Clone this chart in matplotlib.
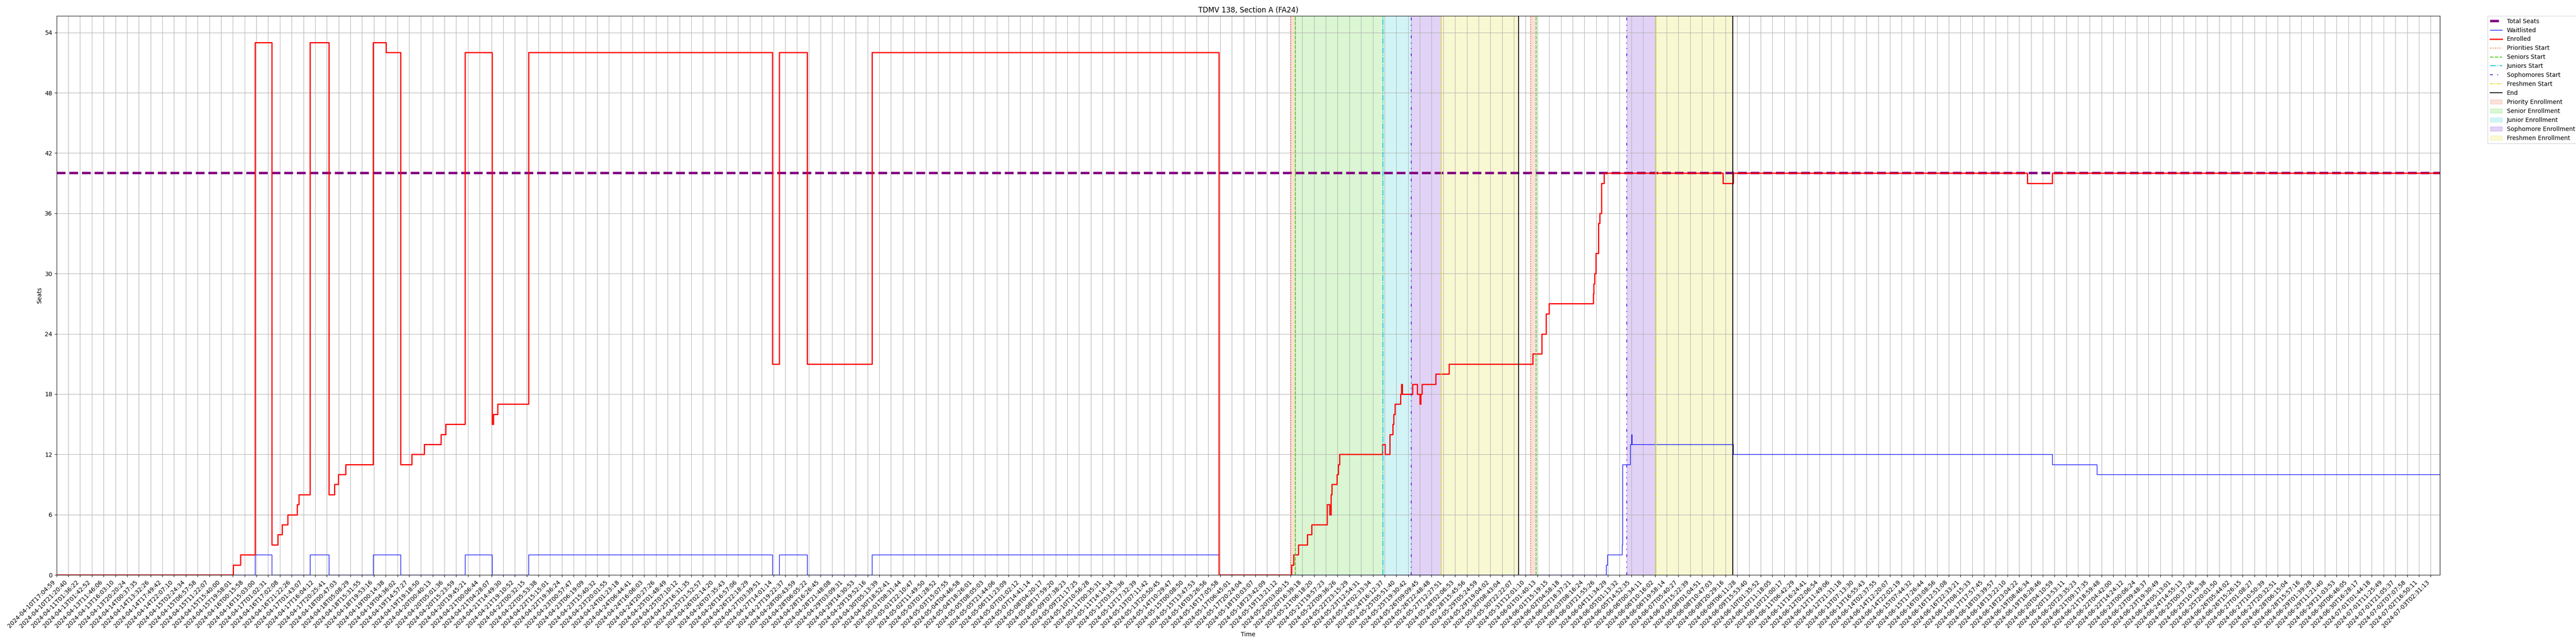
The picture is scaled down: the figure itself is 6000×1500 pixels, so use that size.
import matplotlib
matplotlib.use('Agg')
import matplotlib.pyplot as plt
import numpy as np

# x positions are in tick units (one unit = one labelled tick on the category axis)
total_seats = 40
enrolled_x = [0, 15.04, 15.64, 16.89, 18.31, 18.84, 19.2, 19.65, 20.46, 20.61, 21.56, 23.18, 23.63, 23.99, 24.6,
              26.92, 28.03, 29.28, 30.23, 31.28, 32.71, 33.11, 34.75, 37.07, 37.18, 37.52, 40.17, 60.9, 61.5, 63.85,
              69.4, 98.9, 105.06, 105.25, 105.64, 106.44, 106.79, 108.11, 108.34, 108.43, 108.51, 108.96, 109.07,
              109.18, 112.8, 113.05, 113.43, 113.71, 113.76, 113.88, 114.34, 114.43, 114.49, 115.37, 115.76, 116.0,
              116.08, 116.17, 117.35, 118.47, 125.59, 126.38, 126.72, 126.98, 130.75, 130.8, 130.88, 130.99, 131.21,
              131.32, 131.45, 131.67, 141.8, 142.67, 167.7, 169.8, 202.8]
enrolled_y = [0, 1, 2, 53, 3, 4, 5, 6, 7, 8, 53, 8, 9, 10, 11,
              53, 52, 11, 12, 13, 14, 15, 52, 15, 16, 17, 52, 21, 52, 21,
              52, 0, 1, 2, 3, 4, 5, 7, 6, 8, 9, 10, 11,
              12, 13, 12, 14, 15, 16, 17, 18, 19, 18, 19, 18, 17,
              18, 19, 20, 21, 22, 24, 26, 27, 28, 29, 30, 32, 35,
              36, 39, 40, 39, 40, 39, 40, 40]
waitlist_x = [0, 16.89, 18.31, 21.56, 23.18, 26.92, 29.28, 34.75, 37.07, 40.17, 60.9, 61.5, 63.85, 69.4, 98.9,
              131.85, 131.95, 133.2, 133.25, 133.88, 133.99, 134.03, 142.66, 169.8, 173.6, 202.8]
waitlist_y = [0, 2, 0, 2, 0, 2, 0, 2, 0, 2, 0, 2, 0, 2, 0,
              1, 2, 3, 11, 13, 14, 13, 12, 11, 10, 10]

# start of each enrollment period, first and second round
priority_start = [105.0, 125.43]
senior_start = [105.41, 125.88]
junior_start = [112.87]
sophomore_start = [115.25, 133.62]
freshmen_start = [117.81, 136.09]
period_end = [124.41, 142.62]

y_ticks = [0, 6, 12, 18, 24, 30, 36, 42, 48, 54]

# only the first 22 and last 6 labels could be read, the ones between are estimates
tick_labels = [
    '04-10T17:04:59', '04-10T21:20:40', '04-11T01:36:22', '04-13T01:42:52', '04-13T11:46:06',
    '04-13T16:03:10', '04-13T20:20:24', '04-14T00:37:35', '04-14T13:32:26', '04-14T17:49:42',
    '04-14T22:07:10', '04-15T02:24:34', '04-15T06:57:58', '04-15T11:22:07', '04-15T15:40:00',
    '04-15T19:58:01', '04-16T00:15:58', '04-16T15:03:00', '04-17T01:02:31', '04-16T17:02:08',
    '04-16T21:22:26', '04-17T01:43:07', '04-17T16:04:12', '04-17T20:25:41', '04-18T00:47:03',
    '04-18T05:08:29', '04-18T15:31:55', '04-18T19:53:16', '04-19T00:14:38', '04-19T04:36:02',
    '04-19T14:57:27', '04-19T19:18:50', '04-20T00:40:13', '04-20T05:01:36', '04-20T15:23:59',
    '04-20T19:45:21', '04-21T00:06:44', '04-21T04:28:07', '04-21T14:49:30', '04-21T19:10:52',
    '04-22T00:32:15', '04-22T05:53:38', '04-22T15:15:01', '04-22T19:36:24', '04-23T00:57:47',
    '04-23T06:19:09', '04-23T15:40:32', '04-23T20:01:55', '04-24T01:23:18', '04-24T06:44:41',
    '04-24T16:06:03', '04-24T20:27:26', '04-25T01:48:49', '04-25T07:10:12', '04-25T16:31:35',
    '04-25T21:52:57', '04-26T02:14:20', '04-26T07:35:43', '04-26T16:57:06', '04-26T22:18:29',
    '04-27T03:39:51', '04-27T14:01:14', '04-27T19:22:37', '04-28T00:43:59', '04-28T06:05:22',
    '04-28T16:26:45', '04-28T21:48:08', '04-29T03:09:31', '04-29T14:30:53', '04-29T19:52:16',
    '04-30T05:13:39', '04-30T18:52:41', '05-01T08:31:44', '05-01T22:10:47', '05-02T11:49:50',
    '05-03T01:28:52', '05-03T15:07:55', '05-04T04:46:58', '05-04T18:26:01', '05-05T08:05:03',
    '05-05T21:44:06', '05-06T11:23:09', '05-07T01:02:12', '05-07T14:41:14', '05-08T04:20:17',
    '05-08T17:59:20', '05-09T07:38:23', '05-09T21:17:25', '05-10T10:56:28', '05-11T00:35:31',
    '05-11T14:14:34', '05-12T03:53:36', '05-12T17:32:39', '05-13T07:11:42', '05-13T20:50:45',
    '05-14T10:29:47', '05-15T00:08:50', '05-15T13:47:53', '05-16T03:26:56', '05-16T17:05:58',
    '05-17T06:45:01', '05-17T20:24:04', '05-18T10:03:07', '05-18T23:42:09', '05-19T13:21:12',
    '05-20T03:00:15', '05-20T16:39:18', '05-21T06:18:20', '05-21T19:57:23', '05-22T09:36:26',
    '05-22T23:15:29', '05-23T12:54:31', '05-24T02:33:34', '05-24T16:12:37', '05-25T05:51:40',
    '05-25T19:30:42', '05-26T09:09:45', '05-26T22:48:48', '05-27T12:27:51', '05-28T02:06:53',
    '05-28T15:45:56', '05-29T05:24:59', '05-29T19:04:02', '05-30T08:43:04', '05-30T22:22:07',
    '05-31T12:01:10', '06-01T01:40:13', '06-01T15:19:15', '06-02T04:58:18', '06-02T18:37:21',
    '06-03T08:16:24', '06-03T21:55:26', '06-04T11:34:29', '06-05T01:13:32', '06-05T14:52:35',
    '06-06T00:34:11', '06-06T10:16:02', '06-06T19:58:14', '06-07T05:40:27', '06-07T15:22:39',
    '06-08T01:04:51', '06-08T10:47:03', '06-08T20:29:16', '06-09T06:11:28', '06-09T15:53:40',
    '06-10T01:35:52', '06-10T11:18:05', '06-10T21:00:17', '06-11T06:42:29', '06-11T16:24:41',
    '06-12T02:06:54', '06-12T11:49:06', '06-12T21:31:18', '06-13T07:13:30', '06-13T16:55:43',
    '06-14T02:37:55', '06-14T12:20:07', '06-14T22:02:19', '06-15T07:44:32', '06-15T17:26:44',
    '06-16T03:08:56', '06-16T12:51:08', '06-16T22:33:21', '06-17T08:15:33', '06-17T17:57:45',
    '06-18T03:39:57', '06-18T13:22:10', '06-18T23:04:22', '06-19T08:46:34', '06-19T18:28:46',
    '06-20T04:10:59', '06-20T13:53:11', '06-20T23:35:23', '06-21T09:17:35', '06-21T18:59:48',
    '06-22T04:42:00', '06-22T14:24:12', '06-23T00:06:24', '06-23T09:48:37', '06-23T19:30:49',
    '06-24T05:13:01', '06-24T14:55:13', '06-25T00:37:26', '06-25T10:19:38', '06-25T20:01:50',
    '06-26T05:44:02', '06-26T15:26:15', '06-27T01:08:27', '06-27T10:50:39', '06-27T20:32:51',
    '06-28T06:15:04', '06-28T15:57:16', '06-29T01:39:28', '06-29T11:21:40', '06-29T21:03:53',
    '06-30T06:46:05', '06-30T16:28:17', '07-01T01:44:18', '07-01T11:25:49', '07-01T21:05:37',
    '07-02T07:07:58', '07-02T16:50:11', '07-03T02:31:13',
]
tick_labels = ['2024-' + label for label in tick_labels]

c_priority = '#e9673c'
c_senior = '#46d21e'
c_junior = '#1ec8d2'
c_sophomore = '#6a1ed2'
c_freshmen = '#dfe01e'

fig, ax = plt.subplots(figsize=(60, 15))
fig.subplots_adjust(left=0.02195, right=0.9472, top=0.9753, bottom=0.1073)

ax.axhline(total_seats, color='purple', linestyle='--', linewidth=4, label='Total Seats')
ax.step(waitlist_x, waitlist_y, where='post', color='blue', linewidth=1, label='Waitlisted')
ax.step(enrolled_x, enrolled_y, where='post', color='red', linewidth=2, label='Enrolled')

# Vertical start lines, only the first of each gets a legend entry
for i, x in enumerate(priority_start):
    ax.axvline(x, color=c_priority, linestyle=':', linewidth=1.5, label='Priorities Start' if i == 0 else None)
for i, x in enumerate(senior_start):
    ax.axvline(x, color=c_senior, linestyle='--', linewidth=1.5, label='Seniors Start' if i == 0 else None)
for i, x in enumerate(junior_start):
    ax.axvline(x, color=c_junior, linestyle='-.', linewidth=1.5, label='Juniors Start' if i == 0 else None)
for i, x in enumerate(sophomore_start):
    ax.axvline(x, color=c_sophomore, linestyle=(0, (3, 5, 1, 5, 1, 5)), linewidth=1.5,
               label='Sophomores Start' if i == 0 else None)
for i, x in enumerate(freshmen_start):
    ax.axvline(x, color=c_freshmen, linestyle=(0, (3, 1, 1, 1, 1, 1)), linewidth=1.5,
               label='Freshmen Start' if i == 0 else None)
for i, x in enumerate(period_end):
    ax.axvline(x, color='black', linestyle='-', linewidth=1.5, label='End' if i == 0 else None)

# Shaded enrollment periods
ax.axvspan(priority_start[0], senior_start[0], color=c_priority, alpha=0.2, label='Priority Enrollment')
ax.axvspan(priority_start[1], senior_start[1], color=c_priority, alpha=0.2)
ax.axvspan(senior_start[0], junior_start[0], color=c_senior, alpha=0.2, label='Senior Enrollment')
ax.axvspan(junior_start[0], sophomore_start[0], color=c_junior, alpha=0.2, label='Junior Enrollment')
ax.axvspan(sophomore_start[0], freshmen_start[0], color=c_sophomore, alpha=0.2, label='Sophomore Enrollment')
ax.axvspan(sophomore_start[1], freshmen_start[1], color=c_sophomore, alpha=0.2)
ax.axvspan(freshmen_start[0], period_end[0], color=c_freshmen, alpha=0.2, label='Freshmen Enrollment')
ax.axvspan(freshmen_start[1], period_end[1], color=c_freshmen, alpha=0.2)

ax.set_title('TDMV 138, Section A (FA24)')
ax.set_xlabel('Time')
ax.set_ylabel('Seats')
ax.set_xticks(np.arange(len(tick_labels)))
ax.set_xticklabels(tick_labels, rotation=45, ha='right')
ax.set_yticks(y_ticks)
ax.set_xlim(0, 202.8)
ax.set_ylim(0, 55.65)
ax.grid(True)
ax.legend(loc='upper left', bbox_to_anchor=(1.02, 1), borderaxespad=0)

plt.savefig('out.png', dpi=100)
